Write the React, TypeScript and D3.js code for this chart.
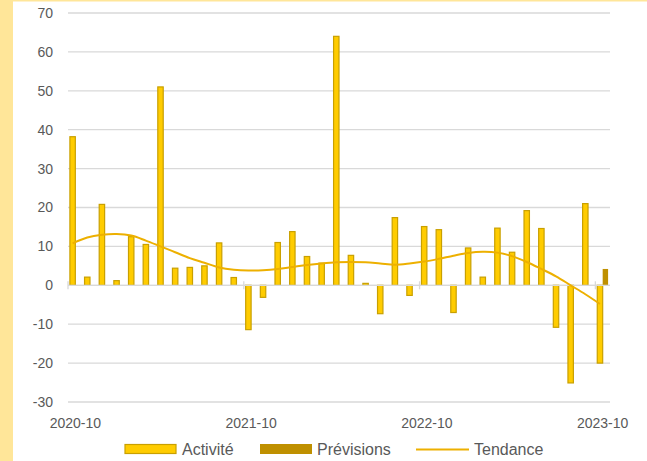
import React from "react";
import * as d3 from "d3";

const categories: string[] = [
  "2020-10","2020-11","2020-12","2021-01","2021-02","2021-03","2021-04","2021-05","2021-06","2021-07","2021-08","2021-09",
  "2021-10","2021-11","2021-12","2022-01","2022-02","2022-03","2022-04","2022-05","2022-06","2022-07","2022-08","2022-09",
  "2022-10","2022-11","2022-12","2023-01","2023-02","2023-03","2023-04","2023-05","2023-06","2023-07","2023-08","2023-09",
  "2023-10",
];

const activite: number[] = [
  38.2, 2.1, 20.8, 1.2, 12.5, 10.5, 51.0, 4.4, 4.6, 5.0, 10.9, 2.0,
  -11.4, -3.1, 11.0, 13.8, 7.4, 5.7, 64.0, 7.7, 0.5, -7.3, 17.4, -2.6,
  15.1, 14.3, -7.0, 9.6, 2.1, 14.7, 8.5, 19.2, 14.6, -10.8, -25.1, 21.0,
  -20.0,
];

const previsions: (number | null)[] = [
  null, null, null, null, null, null, null, null, null, null, null, null,
  null, null, null, null, null, null, null, null, null, null, null, null,
  null, null, null, null, null, null, null, null, null, null, null, null,
  4.2,
];

const tendance: number[] = [
  10.8, 12.3, 13.0, 13.2, 12.8, 11.5, 10.0, 8.5, 7.0, 5.8, 4.6, 4.0,
  3.8, 3.9, 4.2, 4.7, 5.2, 5.6, 5.9, 6.0, 5.9, 5.6, 5.3, 5.6,
  6.1, 6.8, 7.6, 8.3, 8.6, 8.4, 7.5, 6.0, 4.2, 2.3, 0.0, -2.3,
  -4.8,
];

const yTicks: number[] = [70, 60, 50, 40, 30, 20, 10, 0, -10, -20, -30];
const xLabels: string[] = ["2020-10", "2021-10", "2022-10", "2023-10"];
const legendLabels: string[] = ["Activité", "Prévisions", "Tendance"];

const W = 647;
const H = 461;
const left = 68;
const right = 610;
const top = 13;
const bottom = 402;

const C_ACT = "#FFCC00";
const C_ACT_STROKE = "#C9A000";
const C_PREV = "#BF9000";
const C_TREND = "#EDB000";
const C_GRID = "#D9D9D9";
const C_TEXT = "#595959";
const FONT = "'Liberation Sans', Arial, sans-serif";

export default function App() {
  const x = d3.scaleBand<string>().domain(categories).range([left, right]).padding(0);
  const y = d3.scaleLinear().domain([-30, 70]).range([bottom, top]);
  const step = x.step();
  const bw = step * 0.37;
  const cx = (c: string) => (x(c) as number) + step / 2;

  const line = d3
    .line<number>()
    .x((_, i) => cx(categories[i]) - bw / 2)
    .y((d) => y(d))
    .curve(d3.curveCatmullRom.alpha(0.5));

  const tickCats = xLabels.map((l) => categories.indexOf(l));

  return (
    <svg width={W} height={H} style={{ position: "absolute", left: 0, top: 0, background: "#fff" }} fontFamily={FONT}>
      <rect x={0} y={0} width={W} height={H} fill="#fff" />
      <rect x={0} y={0} width={13} height={H} fill="#FFE699" />
      <rect x={13} y={0} width={W - 13} height={1.5} fill="#FFE699" />

      {yTicks.map((t) => (
        <g key={t}>
          <line x1={left} x2={right} y1={y(t)} y2={y(t)} stroke={C_GRID} strokeWidth={1.3} />
          <text x={53} y={y(t)} dy="0.35em" textAnchor="end" fontSize={14} fill={C_TEXT}>
            {t}
          </text>
        </g>
      ))}

      {activite.map((v, i) => {
        const c = categories[i];
        const y0 = y(Math.max(0, v));
        const h = Math.abs(y(v) - y(0));
        return (
          <rect key={"a" + i} x={cx(c) - bw} y={y0} width={bw} height={h}
            fill={C_ACT} stroke={C_ACT_STROKE} strokeWidth={1.2} />
        );
      })}
      {previsions.map((v, i) => {
        if (v === null) return null;
        const c = categories[i];
        const y0 = y(Math.max(0, v));
        const h = Math.abs(y(v) - y(0));
        return <rect key={"p" + i} x={cx(c)} y={y0} width={bw} height={h} fill={C_PREV} />;
      })}

      <line x1={left} x2={right} y1={y(0)} y2={y(0)} stroke={C_GRID} strokeWidth={1.3} />
      {tickCats.map((i) => (
        <line key={"t" + i} x1={x(categories[i]) as number} x2={x(categories[i]) as number}
          y1={y(0) - 4} y2={y(0) + 4} stroke={C_GRID} strokeWidth={1.3} />
      ))}

      <path d={line(tendance) || ""} fill="none" stroke={C_TREND} strokeWidth={2} />

      {tickCats.map((i) => (
        <text key={"xl" + i} x={cx(categories[i])} y={423} dy="0.35em" textAnchor="middle" fontSize={14} fill={C_TEXT}>
          {categories[i]}
        </text>
      ))}

      <g>
        <rect x={125} y={444.5} width={51} height={9} fill={C_ACT} stroke={C_ACT_STROKE} strokeWidth={1.2} />
        <text x={182} y={449.5} dy="0.35em" fontSize={16} fill={C_TEXT}>{legendLabels[0]}</text>
        <rect x={260} y={444} width={52} height={10} fill={C_PREV} />
        <text x={317} y={449.5} dy="0.35em" fontSize={16} fill={C_TEXT}>{legendLabels[1]}</text>
        <line x1={416} x2={469} y1={449.5} y2={449.5} stroke={C_TREND} strokeWidth={2} />
        <text x={474} y={449.5} dy="0.35em" fontSize={16} fill={C_TEXT}>{legendLabels[2]}</text>
      </g>
    </svg>
  );
}
